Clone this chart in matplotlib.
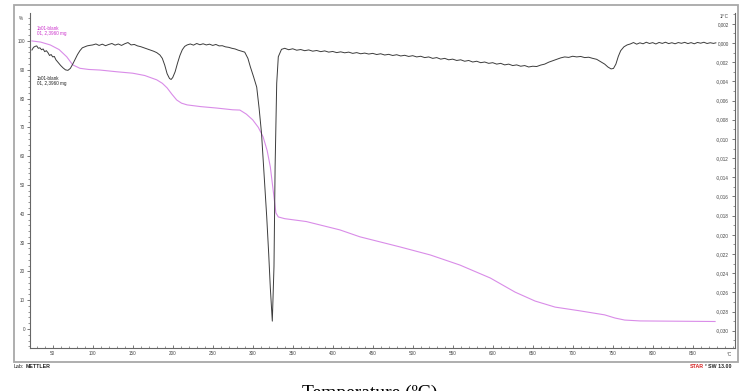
import numpy as np
import matplotlib
matplotlib.use("Agg")
import matplotlib.pyplot as plt
from matplotlib.ticker import MultipleLocator, FuncFormatter
from matplotlib.patches import Rectangle

plt.rcParams['font.family'] = ['Liberation Sans', 'DejaVu Sans']

# TG curve: temperature (°C) and mass (%)
tg_temp = [24, 35, 47, 58, 67.5, 75, 84, 95, 109, 130, 150, 165, 180, 187, 193, 199,
           205, 211, 218, 235, 255, 275, 284, 292, 300, 307, 313, 318, 322, 326, 329,
           332, 340, 367, 409, 434, 484, 522, 559, 597, 628, 653, 678, 709, 740, 753,
           765, 784, 878]
tg_mass = [100, 99.6, 98.6, 97.0, 94.5, 91.7, 90.5, 90.1, 89.9, 89.3, 88.8, 88.0, 86.5,
           85.3, 83.7, 81.5, 79.5, 78.4, 77.8, 77.2, 76.7, 76.1, 76.0, 74.6, 72.6, 70.0,
           66.7, 62.0, 56.3, 47.2, 40.3, 38.9, 38.3, 37.3, 34.4, 32.0, 28.5, 25.7, 22.2,
           17.7, 12.8, 9.7, 7.6, 6.3, 4.9, 3.8, 3.1, 2.8, 2.6]

# DTG curve: temperature (°C) and rate (10^-3 1/°C)
dtg_temp = [24, 26, 28, 30, 32, 34, 36, 38, 40, 42, 44, 46, 48, 50, 52, 54, 56, 58, 60,
            63, 66, 69, 72, 75, 78, 81, 84, 87, 90, 93, 96, 100,
            104, 108, 112, 116, 120, 124, 128, 132, 136, 140, 144, 148, 152, 156, 160,
            164, 168, 172, 176, 180, 184, 187, 190, 193, 196, 198, 200, 203, 206, 209,
            212, 215, 218, 222,
            226, 230, 234, 238, 242, 246, 250, 254, 258, 262, 266, 270, 274, 278, 282,
            286, 290, 294, 297, 301, 305, 308, 311, 314, 317.5, 320, 322, 324.5, 326.6,
            328, 330, 332, 336,
            340, 345, 350, 355, 360, 365, 370, 375, 380, 385, 390, 395, 400, 405, 410,
            415, 420, 425, 430, 435, 440, 445, 450, 455, 460, 465, 470, 475, 480, 485,
            490, 495, 500, 505, 510, 515, 520, 525, 530, 535, 540, 545, 550, 555, 560,
            565, 570, 575, 580, 585, 590, 595, 600, 605, 610, 615, 620, 625, 630, 635,
            640, 645, 650, 655, 660, 665, 670, 675, 680, 685, 690, 695, 700, 705, 710,
            715, 720, 725, 730, 735, 740, 744, 748, 751, 754, 757, 760, 764, 768,
            772, 776, 780, 784, 788, 792, 796, 800, 804, 808, 812, 816, 820, 824, 828,
            832, 836, 840, 844, 848, 852, 856, 860, 864, 868, 872, 876, 879]
dtg_rate = [-0.73, -0.45, -0.35, -0.30, -0.55, -0.50, -0.70, -0.62, -0.90, -0.80, -1.00,
            -1.30, -1.20, -1.45, -1.40, -1.75, -1.95, -2.15, -2.35, -2.60, -2.80, -2.85,
            -2.65, -2.20, -1.70, -1.20, -0.80, -0.50, -0.40, -0.30, -0.25, -0.20,
            -0.10, -0.25, -0.12, -0.28, -0.15, -0.05, -0.22, -0.10, -0.25, -0.08, 0.05,
            -0.20, -0.15, -0.30, -0.38,
            -0.50, -0.62, -0.75, -0.85, -1.00, -1.25, -1.60, -2.30, -3.20, -3.70, -3.80,
            -3.60, -3.00, -2.10, -1.30, -0.70, -0.35, -0.20, -0.10,
            -0.22, -0.05, -0.18, -0.08, -0.20, -0.12, -0.25, -0.15, -0.30, -0.28, -0.40,
            -0.45, -0.55, -0.62, -0.75, -0.85, -0.95, -1.60, -2.47, -3.50, -4.60, -6.80,
            -9.40, -13.50, -18.10, -22.00, -25.50, -29.00, -23.30, -12.90, -4.20, -1.43,
            -0.66,
            -0.55, -0.70, -0.60, -0.75, -0.68, -0.80, -0.72, -0.85, -0.78, -0.90, -0.82,
            -0.95, -0.88, -1.00, -0.92, -1.02, -0.95, -1.08, -1.00, -1.12, -1.05, -1.15,
            -1.08, -1.20, -1.12, -1.25, -1.18, -1.30, -1.22, -1.35, -1.28, -1.40, -1.32,
            -1.45, -1.38, -1.52, -1.45, -1.60, -1.52, -1.68, -1.60, -1.75, -1.68, -1.82,
            -1.75, -1.90, -1.82, -1.98, -1.90, -2.05, -1.98, -2.12, -2.05, -2.20, -2.12,
            -2.28, -2.20, -2.35, -2.28, -2.42, -2.35, -2.50, -2.42, -2.45, -2.30, -2.20,
            -2.00, -1.85, -1.70, -1.55, -1.45, -1.50, -1.38, -1.45, -1.40, -1.52, -1.48,
            -1.60, -1.70, -1.95, -2.20, -2.50, -2.70, -2.65, -2.20, -1.40, -0.80, -0.40,
            -0.20,
            -0.10, 0.05, -0.12, 0.02, -0.08, 0.08, -0.05, 0.04, -0.10, 0.06, -0.04, 0.08,
            -0.06, 0.03, -0.08, 0.05, -0.03, 0.07, -0.06, 0.04, -0.08, 0.06, -0.02, 0.08,
            -0.05, 0.03, -0.04, 0.02]

x_major = list(range(50, 851, 50))
pct_ticks = list(range(0, 101, 10))
rate_ticks = [k * 0.002 for k in range(-15, 2)]

W, H = 740, 391
fig = plt.figure(figsize=(W / 100, H / 100), dpi=100)

# outer frame of the instrument print
fig.patches.append(Rectangle((14 / W, 1 - 362 / H), 724 / W, 357 / H,
                             transform=fig.transFigure, fill=False,
                             ec='#a8a8a8', lw=1.3))

ax = fig.add_axes([30 / W, 1 - 348 / H, (735 - 30) / W, (348 - 13) / H])
ax.plot(tg_temp, tg_mass, color='#d98ce8', lw=0.8)
ax.set_xlim(21.6, 902.9)
ax.set_ylim(-6.6, 109.7)
ax.patch.set_alpha(0)

ax2 = ax.twinx()
ax2.plot(dtg_temp, np.array(dtg_rate) * 1e-3, color='#3c3c3c', lw=0.7)
ax2.set_ylim(-0.0318, 0.00313)

for s in ['top', 'right']:
    ax.spines[s].set_visible(False)
for s in ['top', 'left', 'bottom']:
    ax2.spines[s].set_visible(False)
for a in (ax, ax2):
    for s in a.spines.values():
        s.set_color('#666666')
        s.set_linewidth(0.8)

ax.set_xticks(x_major)
ax.xaxis.set_minor_locator(MultipleLocator(10))
ax.tick_params(axis='x', which='major', direction='in', length=2.5, width=0.5,
               pad=2.5, labelsize=3.3, colors='#444444')
ax.tick_params(axis='x', which='minor', direction='in', length=1.5, width=0.4,
               colors='#444444')

ax.set_yticks(pct_ticks)
ax.yaxis.set_minor_locator(MultipleLocator(2))
ax.tick_params(axis='y', which='major', direction='out', length=2.5, width=0.5,
               pad=1, labelsize=3.3, colors='#444444')
ax.tick_params(axis='y', which='minor', direction='out', length=1.2, width=0.4,
               colors='#444444')


def comma_fmt(v, pos):
    if abs(v) < 1e-9:
        v = 0.0
    return f"{v:.3f}".replace('.', ',')


ax2.set_yticks(rate_ticks)
ax2.yaxis.set_major_formatter(FuncFormatter(comma_fmt))
ax2.yaxis.set_minor_locator(MultipleLocator(0.001))
ax2.tick_params(axis='y', which='major', direction='in', length=2.5, width=0.5,
                pad=-4.5, labelsize=3.3, colors='#444444')
ax2.tick_params(axis='y', which='minor', direction='in', length=1.2, width=0.4,
                colors='#444444')
for t in ax2.yaxis.get_major_ticks():
    t.label2.set_horizontalalignment('right')

small = dict(fontsize=3.3, color='#444444')
fig.text(21 / W, 1 - 18 / H, "%", ha='center', va='center', **small)
fig.text(729 / W, 1 - 16 / H, "1/°C", ha='right', va='center', **small)
fig.text(729 / W, 1 - 355 / H, "°C", ha='center', va='center', **small)

fig.text(37 / W, 1 - 28 / H, "1b01-blank", color='#cc33cc', fontsize=3.3, va='center')
fig.text(37 / W, 1 - 34 / H, "01, 2,3960 mg", color='#cc33cc', fontsize=3.3, va='center')
fig.text(37 / W, 1 - 78 / H, "1b01-blank", color='#222222', fontsize=3.3, va='center')
fig.text(37 / W, 1 - 84 / H, "01, 2,3960 mg", color='#222222', fontsize=3.3, va='center')

fig.text(14 / W, 1 - 367 / H, "Lab:", fontsize=3.8, color='#222222', va='center')
fig.text(26 / W, 1 - 367 / H, "METTLER", fontsize=3.8, color='#222222',
         fontweight='bold', va='center')
fig.text(704 / W, 1 - 367 / H, "STAR", fontsize=3.8, color='#d42020',
         fontweight='bold', ha='right', va='center')
fig.text(704.5 / W, 1 - 365.5 / H, "e", fontsize=2.6, color='#222222',
         ha='left', va='center')
fig.text(708 / W, 1 - 367 / H, "SW 13.00", fontsize=3.8, color='#222222',
         fontweight='bold', ha='left', va='center')

fig.text(369.5 / W, (H - 398) / H, "Temperature (ºC)", ha='center', va='baseline',
         fontsize=14, family=['Liberation Serif', 'DejaVu Serif'])

fig.savefig('out.png', dpi=100)
